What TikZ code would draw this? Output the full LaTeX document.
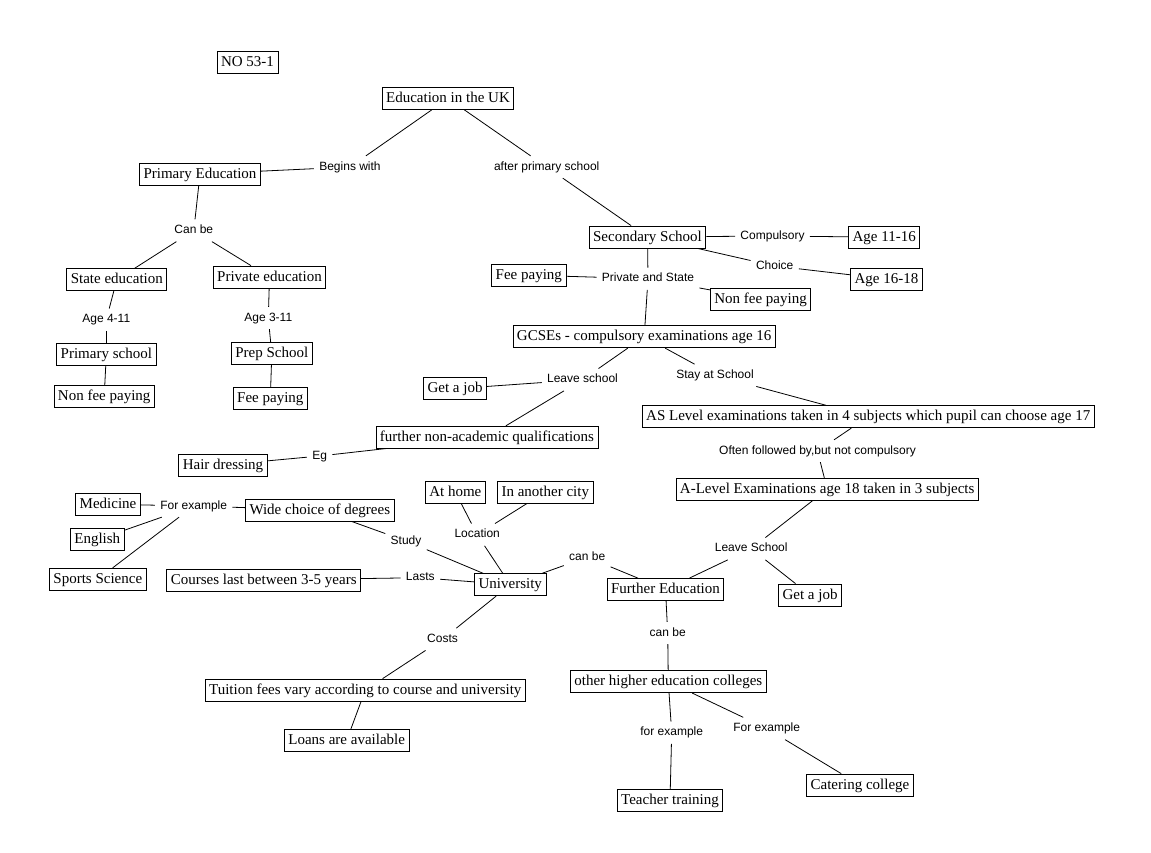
\documentclass[tikz,border=0pt]{standalone}
\usepackage{fontspec}
\setmainfont{Liberation Serif}
\newfontfamily\linkfont{Liberation Sans}

\begin{document}
\begin{tikzpicture}[x=1pt, y=-1pt, line width=0.8pt,
    box/.style={draw, font=\fontsize{15}{18}\selectfont, inner xsep=4pt, inner ysep=3.75pt, text height=11.5pt, text depth=3pt},
    lnk/.style={font=\linkfont\fontsize{12}{14}\selectfont, inner xsep=5pt, inner ysep=5pt, text height=9pt, text depth=2.5pt}]
                \useasboundingbox (0,0) rectangle (1151,853);
                \fill[white] (0,0) rectangle (1151,853);

                \node[box] (no) at (247.5,62) {NO 53-1};
                \node[box] (edu) at (448,98.5) {Education in the UK};
                \node[lnk] (begins) at (350,167) {Begins with};
                \node[lnk] (afterPrim) at (546.7,167) {after primary school};

                \node[box] (primEd) at (200,174) {Primary Education};
                \node[lnk] (canBe) at (193.8,230.5) {Can be};
                \node[box] (stateEd) at (116.8,279.7) {State education};
                \node[box] (privEd) at (269.5,277) {Private education};
                \node[lnk] (age4) at (106.3,319.7) {Age 4-11};
                \node[lnk] (age3) at (268.3,318) {Age 3-11};
                \node[box] (primSch) at (106.3,354.5) {Primary school};
                \node[box] (prepSch) at (271.8,353.7) {Prep School};
                \node[box] (nonFeeA) at (104.2,396.7) {Non fee paying};
                \node[box] (feeA) at (270.3,398.7) {Fee paying};

                \node[box] (secSch) at (647.5,237) {Secondary School};
                \node[lnk] (compuls) at (772.5,236) {Compulsory};
                \node[box] (age1116) at (884.2,237.2) {Age 11-16};
                \node[lnk] (choice) at (774.7,266) {Choice};
                \node[box] (age1618) at (886.5,279) {Age 16-18};
                \node[lnk] (privState) at (648,278.7) {Private and State};
                \node[box] (feeB) at (528.8,275.2) {Fee paying};
                \node[box] (nonFeeB) at (760.5,299) {Non fee paying};
                \node[box] (gcse) at (644.2,336.7) {GCSEs - compulsory examinations age 16};

                \node[lnk] (leaveA) at (582.5,379.7) {Leave school};
                \node[box] (jobA) at (455,388.7) {Get a job};
                \node[box] (furtherNA) at (487,437.2) {further non-academic qualifications};
                \node[lnk] (eg) at (319.7,456) {Eg};
                \node[box] (hair) at (223,465) {Hair dressing};
                \node[lnk] (stay) at (715,375.3) {Stay at School};
                \node[box] (asLevel) at (868.2,416.7) {AS Level examinations taken in 4 subjects which pupil can choose age 17};
                \node[lnk] (often) at (817.5,451) {Often followed by,but not compulsory};
                \node[box] (aLevel) at (827.2,489.2) {A-Level Examinations age 18 taken in 3 subjects};
                \node[lnk] (leaveB) at (751.2,548.7) {Leave School};
                \node[box] (jobB) at (810,595) {Get a job};
                \node[box] (furtherEd) at (665.5,589.5) {Further Education};
                \node[lnk] (canBeB) at (587.2,557.2) {can be};
                \node[lnk] (canBeC) at (667.7,633) {can be};
                \node[box] (otherHE) at (668.3,681.7) {other higher education colleges};
                \node[lnk] (forExA) at (671.7,732.7) {for example};
                \node[box] (teacher) at (670,800.3) {Teacher training};
                \node[lnk] (forExB) at (766.7,728.5) {For example};
                \node[box] (catering) at (860,785) {Catering college};

                \node[box] (univ) at (510.3,584.7) {University};
                \node[lnk] (location) at (477.2,534.7) {Location};
                \node[box] (atHome) at (455.3,492) {At home};
                \node[box] (otherCity) at (545.3,492) {In another city};
                \node[lnk] (study) at (406,541) {Study};
                \node[box] (wide) at (319.8,510) {Wide choice of degrees};
                \node[lnk] (forExC) at (193.7,506) {For example};
                \node[box] (medicine) at (108,504.2) {Medicine};
                \node[box] (english) at (97.3,539.7) {English};
                \node[box] (sports) at (97.8,579.2) {Sports Science};
                \node[lnk] (lasts) at (420.3,577.7) {Lasts};
                \node[box] (courses) at (263.7,580) {Courses last between 3-5 years};
                \node[lnk] (costs) at (442.5,639.3) {Costs};
                \node[box] (tuition) at (365.3,690) {Tuition fees vary according to course and university};
                \node[box] (loans) at (346.7,740.3) {Loans are available};

                \foreach \a/\b in {edu/begins, edu/afterPrim, begins/primEd, afterPrim/secSch,
                    primEd/canBe, canBe/stateEd, canBe/privEd, stateEd/age4, age4/primSch,
                    primSch/nonFeeA, privEd/age3, age3/prepSch, prepSch/feeA,
                    secSch/compuls, compuls/age1116, secSch/choice, choice/age1618,
                    secSch/privState, privState/feeB, privState/nonFeeB, privState/gcse,
                    gcse/leaveA, leaveA/jobA, leaveA/furtherNA, furtherNA/eg, eg/hair,
                    gcse/stay, stay/asLevel, asLevel/often, often/aLevel,
                    aLevel/leaveB, leaveB/furtherEd, leaveB/jobB, univ/canBeB, canBeB/furtherEd,
                    furtherEd/canBeC, canBeC/otherHE, otherHE/forExA, forExA/teacher,
                    otherHE/forExB, forExB/catering, univ/location, location/atHome,
                    location/otherCity, univ/study, study/wide, wide/forExC, forExC/medicine,
                    forExC/english, forExC/sports, univ/lasts, lasts/courses, univ/costs,
                    costs/tuition, tuition/loans}
                    {
                        \draw (\a) -- (\b);
                    }
            \end{tikzpicture}
\end{document}
